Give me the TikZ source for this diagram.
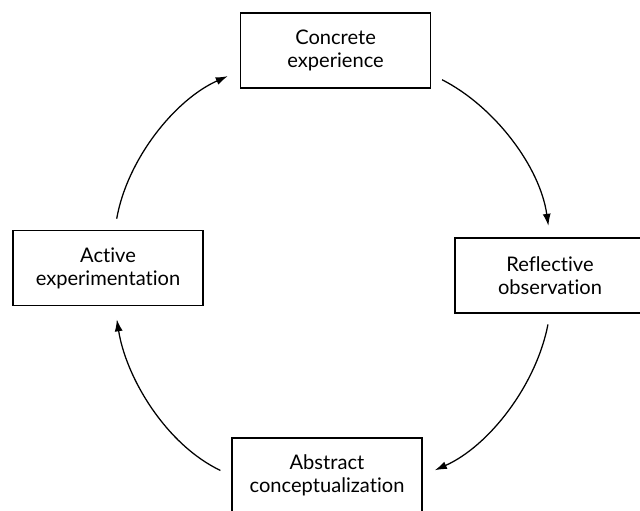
\documentclass[tikz,border=0pt]{standalone}
\usepackage{fontspec}
\setmainfont{Lato}[Ligatures=NoCommon]
\usetikzlibrary{arrows.meta}

\begin{document}
\begin{tikzpicture}[
		stage/.style={draw, line width=1.1pt, minimum width=4.75cm, minimum height=1.875cm, inner sep=0pt, align=center, font=\fontsize{14.3}{16.5}\selectfont},
		flow/.style={line width=0.9pt, -{Latex[length=3mm, width=2mm]}, looseness=0.9},
	]
		\useasboundingbox (0,0) rectangle (16,-12.75);

		\node[stage] (concrete) at (8.39,-1.26) {Concrete\\experience};
		\node[stage] (reflective) at (13.75,-6.89) {Reflective\\observation};
		\node[stage] (abstract) at (8.175,-11.89) {Abstract\\conceptualization};
		\node[stage] (active) at (2.7,-6.7) {Active\\experimentation};

		\draw[flow, shorten <=0.3cm, shorten >=0.29cm] (concrete.-14) to[out=-27, in=98] (reflective.north);
		\draw[flow, shorten <=0.27cm, shorten >=0.33cm] (reflective.south) to[out=-101, in=24] (abstract.east);
		\draw[flow, shorten <=0.3cm, shorten >=0.33cm] (abstract.west) to[out=154.5, in=-81] (active.-80);
		\draw[flow, shorten <=0.28cm, shorten >=0.33cm] (active.80) to[out=80, in=-156] (concrete.-168);
	\end{tikzpicture}
\end{document}
